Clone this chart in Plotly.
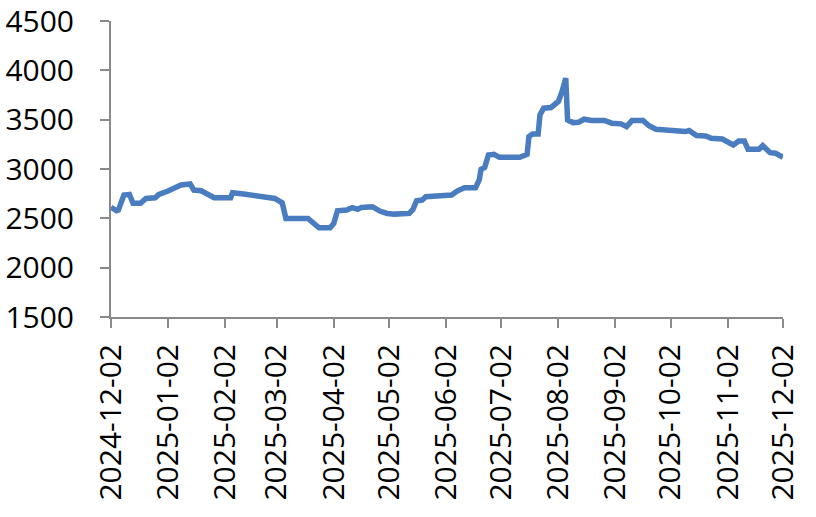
import plotly.graph_objects as go

dates = [
    "2024-12-02", "2024-12-05", "2024-12-06", "2024-12-09", "2024-12-12", "2024-12-14",
    "2024-12-18", "2024-12-21", "2024-12-26", "2024-12-28", "2025-01-02", "2025-01-06",
    "2025-01-09", "2025-01-14", "2025-01-16", "2025-01-20", "2025-01-24", "2025-01-27",
    "2025-02-05", "2025-02-06", "2025-02-12", "2025-02-19", "2025-02-22", "2025-03-01",
    "2025-03-05", "2025-03-06", "2025-03-07", "2025-03-19", "2025-03-22", "2025-03-25",
    "2025-03-31", "2025-04-02", "2025-04-04", "2025-04-09", "2025-04-12", "2025-04-15",
    "2025-04-17", "2025-04-23", "2025-04-27", "2025-05-01", "2025-05-05", "2025-05-13",
    "2025-05-15", "2025-05-17", "2025-05-20", "2025-05-22", "2025-05-30", "2025-06-05",
    "2025-06-08", "2025-06-12", "2025-06-18", "2025-06-20", "2025-06-21", "2025-06-23",
    "2025-06-25", "2025-06-28", "2025-07-01", "2025-07-12", "2025-07-16", "2025-07-17",
    "2025-07-19", "2025-07-22", "2025-07-23", "2025-07-25", "2025-07-29", "2025-07-31",
    "2025-08-02", "2025-08-04", "2025-08-06", "2025-08-07", "2025-08-10", "2025-08-13",
    "2025-08-16", "2025-08-20", "2025-08-27", "2025-08-31", "2025-09-05", "2025-09-08",
    "2025-09-11", "2025-09-17", "2025-09-20", "2025-09-24", "2025-09-29", "2025-10-01",
    "2025-10-10", "2025-10-12", "2025-10-16", "2025-10-21", "2025-10-24", "2025-10-30",
    "2025-11-02", "2025-11-05", "2025-11-08", "2025-11-11", "2025-11-13", "2025-11-19",
    "2025-11-21", "2025-11-25", "2025-11-28", "2025-12-02",
]

values = [
    2612, 2577, 2584, 2736, 2743, 2652,
    2652, 2702, 2709, 2743, 2777, 2821,
    2838, 2848, 2787, 2780, 2736, 2709,
    2709, 2760, 2746, 2729, 2709, 2702,
    2658, 2600, 2499, 2499, 2448, 2404,
    2404, 2448, 2577, 2584, 2608, 2591,
    2611, 2618, 2574, 2550, 2543, 2550,
    2591, 2679, 2686, 2719, 2729, 2736,
    2777, 2811, 2811, 2889, 2997, 3017,
    3143, 3149, 3119, 3119, 3149, 3329,
    3356, 3356, 3549, 3617, 3624, 3651,
    3685, 3786, 3922, 3498, 3471, 3475,
    3505, 3492, 3492, 3465, 3458, 3431,
    3492, 3492, 3441, 3404, 3397, 3387,
    3380, 3390, 3339, 3336, 3312, 3305,
    3271, 3244, 3285, 3285, 3200, 3200,
    3237, 3166, 3160, 3119,
]

tick_dates = [
    "2024-12-02", "2025-01-02", "2025-02-02", "2025-03-02", "2025-04-02",
    "2025-05-02", "2025-06-02", "2025-07-02", "2025-08-02", "2025-09-02",
    "2025-10-02", "2025-11-02", "2025-12-02",
]
y_ticks = [1500, 2000, 2500, 3000, 3500, 4000, 4500]

LINE_COLOR = "#4A7DC0"
AXIS_COLOR = "#898989"
FONT = "Open Sans"

fig = go.Figure()
fig.add_trace(go.Scatter(
    x=dates, y=values, mode="lines",
    line=dict(color=LINE_COLOR, width=5.5),
    hoverinfo="x+y", showlegend=False,
))

fig.update_layout(
    width=816, height=517,
    margin=dict(l=111, r=33, t=21, b=200),
    paper_bgcolor="white", plot_bgcolor="white",
    font=dict(family=FONT, size=30, color="#000000"),
    showlegend=False,
)

fig.update_xaxes(
    type="date",
    range=[tick_dates[0], tick_dates[-1]],
    tickmode="array", tickvals=tick_dates, ticktext=tick_dates,
    tickangle=-90,
    ticks="outside", ticklen=9, tickwidth=2, tickcolor=AXIS_COLOR,
    showline=True, linecolor=AXIS_COLOR, linewidth=2,
    showgrid=False, zeroline=False, automargin=False,
    tickfont=dict(family=FONT, size=30, color="#000000"),
    ticklabelstandoff=4, ticklabeloverflow="allow",
)

fig.update_yaxes(
    range=[1500, 4501],
    tickmode="array", tickvals=y_ticks, ticktext=[str(v) for v in y_ticks],
    ticks="outside", ticklen=9, tickwidth=2, tickcolor=AXIS_COLOR,
    showline=True, linecolor=AXIS_COLOR, linewidth=2,
    showgrid=False, zeroline=False, automargin=False,
    tickfont=dict(family=FONT, size=30, color="#000000"),
    ticklabelstandoff=20, ticklabeloverflow="allow",
)

fig.write_html(
    "out.html",
    config={"displayModeBar": False},
    post_script="document.body.style.margin='0';document.body.style.overflow='hidden';",
)
